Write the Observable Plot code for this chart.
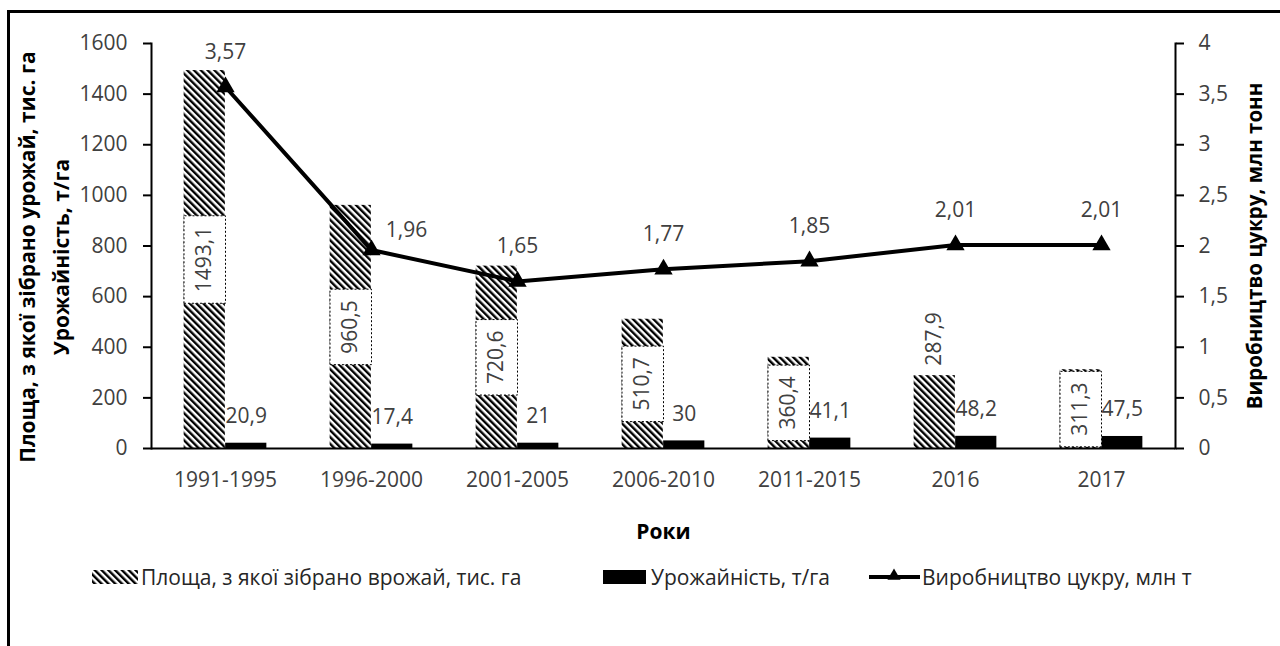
<!DOCTYPE html>
<html>
<head>
<meta charset="utf-8">
<script src="https://cdn.jsdelivr.net/npm/d3@7"></script>
<script src="https://cdn.jsdelivr.net/npm/@observablehq/plot@0.6"></script>
<style>
  html, body { margin: 0; padding: 0; background: #fff; overflow: hidden; }
  #page { position: relative; width: 1280px; height: 646px; font-family: 'Open Sans', sans-serif; }
  #chart { position: absolute; left: 0; top: 0; }
  #border { position: absolute; left: 7px; top: 10px; width: 1300px; height: 700px;
            border-left: 3px solid #000; border-top: 3px solid #000; pointer-events: none; }
  .leg { position: absolute; top: 563px; height: 28px; display: flex; align-items: center;
         font-size: 21px; color: #262626; white-space: nowrap; }
  .leg svg { display: block; }
</style>
</head>
<body>
<div id="page">
  <div id="chart"></div>
  <div id="legend"></div>
  <div id="border"></div>
</div>
<script>
// ---- data ----
const categories = ["1991-1995", "1996-2000", "2001-2005", "2006-2010", "2011-2015", "2016", "2017"];
const areaValues = [1493.1, 960.5, 720.6, 510.7, 360.4, 287.9, 311.3];   // тис. га
const yieldValues = [20.9, 17.4, 21, 30, 41.1, 48.2, 47.5];              // т/га
const sugarValues = [3.57, 1.96, 1.65, 1.77, 1.85, 2.01, 2.01];          // млн т
const leftTicks = [0, 200, 400, 600, 800, 1000, 1200, 1400, 1600];
const rightTicks = [0, 0.5, 1, 1.5, 2, 2.5, 3, 3.5, 4];
const leftTitle1 = "Площа, з якої зібрано урожай, тис. га";
const leftTitle2 = "Урожайність, т/га";
const rightTitle = "Виробництво цукру, млн тонн";
const xTitle = "Роки";
const legendLabels = ["Площа, з якої зібрано врожай, тис. га", "Урожайність, т/га", "Виробництво цукру, млн т"];
const outsideLabelCats = ["2016"];

// ---- layout ----
const W = 1280, H = 560;
const mL = 151, mR = 105, mT = 43, mB = 112;
const bw = (W - mL - mR) / categories.length;
const barW = 41.5;
const k = leftTicks[leftTicks.length - 1] / rightTicks[rightTicks.length - 1]; // secondary axis factor
const fmt = v => String(v).replace(".", ",");
const textColor = "#404040";

const rows = categories.map((c, i) => ({cat: c, area: areaValues[i], yld: yieldValues[i], sugar: sugarValues[i], i}));
const inside = rows.filter(d => !outsideLabelCats.includes(d.cat));
const outside = rows.filter(d => outsideLabelCats.includes(d.cat));

const chart = Plot.plot({
  width: W, height: H,
  marginLeft: mL, marginRight: mR, marginTop: mT, marginBottom: mB,
  style: {fontFamily: "'Open Sans', sans-serif", background: "transparent", color: textColor, overflow: "visible"},
  x: {domain: categories, type: "band", padding: 0},
  y: {domain: [0, 1600]},
  marks: [
    Plot.barY(rows, {x: "cat", y: "area", fill: "url(#hatch)", insetLeft: bw / 2 - barW, insetRight: bw / 2}),
    Plot.barY(rows, {x: "cat", y: "yld", fill: "black", insetLeft: bw / 2, insetRight: bw / 2 - barW}),
    Plot.frame({anchor: "left", stroke: "black", strokeWidth: 2}),
    Plot.frame({anchor: "right", stroke: "black", strokeWidth: 2}),
    Plot.ruleY([0], {stroke: "black", strokeWidth: 2}),
    Plot.axisY(leftTicks, {anchor: "left", tickSize: 8, tickPadding: 16, fontSize: 21, stroke: "black", strokeWidth: 2,
      fill: textColor, label: null, tickFormat: d => String(d)}),
    Plot.axisY(rightTicks.map(v => v * k), {anchor: "right", tickSize: 8, tickPadding: 15, fontSize: 21, stroke: "black",
      strokeWidth: 2, fill: textColor, label: null, tickFormat: d => fmt(d / k)}),
    Plot.axisX({tickSize: 0, tickPadding: 24, fontSize: 21, fill: textColor, label: null}),
    // area labels
    Plot.text(inside, {x: "cat", y: d => d.area / 2, text: d => fmt(d.area), rotate: -90, dx: -barW / 2,
      fontSize: 21, fill: textColor}),
    Plot.text(outside, {x: "cat", y: "area", text: d => fmt(d.area), rotate: -90, textAnchor: "start",
      dx: -barW / 2, dy: -10, fontSize: 21, fill: textColor}),
    // yield labels
    Plot.text(rows, {x: "cat", y: "yld", text: d => fmt(d.yld), dx: barW / 2, dy: -27, fontSize: 21, fill: textColor}),
    // sugar line
    Plot.line(rows, {x: "cat", y: d => d.sugar * k, stroke: "black", strokeWidth: 4}),
    Plot.dot(rows, {x: "cat", y: d => d.sugar * k, symbol: "triangle", r: 6.8, fill: "black", stroke: "none"}),
    Plot.text(rows.filter(d => d.i !== 1), {x: "cat", y: d => d.sugar * k, text: d => fmt(d.sugar), dy: -35, fontSize: 21, fill: textColor}),
    Plot.text(rows.filter(d => d.i === 1), {x: "cat", y: d => d.sugar * k, text: d => fmt(d.sugar), dx: 35, dy: -20, fontSize: 21, fill: textColor}),
    // titles
    Plot.text([leftTitle1], {text: d => d, frameAnchor: "left", textAnchor: "middle", lineAnchor: "middle", rotate: -90, dx: -123, dy: 11, fontSize: 21, fontWeight: "bold", fill: "black"}),
    Plot.text([leftTitle2], {text: d => d, frameAnchor: "left", textAnchor: "middle", lineAnchor: "middle", rotate: -90, dx: -89, dy: 11, fontSize: 21, fontWeight: "bold", fill: "black"}),
    Plot.text([rightTitle], {text: d => d, frameAnchor: "right", textAnchor: "middle", lineAnchor: "middle", rotate: -90, dx: 80, dy: 0, fontSize: 20.5, fontWeight: "bold", fill: "black"}),
    Plot.text([xTitle], {text: d => d, frameAnchor: "bottom", textAnchor: "middle", lineAnchor: "middle", dy: 84, fontSize: 21, fontWeight: "bold", fill: "black"})
  ]
});
document.getElementById("chart").appendChild(chart);

// hatch pattern
function addHatch(svgSel, id) {
  const p = svgSel.insert("defs", ":first-child").append("pattern")
    .attr("id", id).attr("patternUnits", "userSpaceOnUse")
    .attr("width", 4.8).attr("height", 4.8).attr("patternTransform", "rotate(-45)");
  p.append("rect").attr("width", 4.8).attr("height", 4.8).attr("fill", "white");
  p.append("rect").attr("x", 0).attr("y", 0).attr("width", 2.4).attr("height", 4.8).attr("fill", "black");
}
addHatch(d3.select(chart), "hatch");

// dotted white label boxes behind the centred area labels
const insideTexts = new Set(inside.map(d => fmt(d.area)));
d3.select(chart).selectAll("text").filter(function () {
  return insideTexts.has(this.textContent) && /rotate/.test(this.getAttribute("transform") || "");
}).each(function () {
  const b = this.getBBox();
  const pad = 11;
  this.parentNode.insertBefore(
    d3.create("svg:rect")
      .attr("transform", this.getAttribute("transform"))
      .attr("x", b.x - pad).attr("width", b.width + 2 * pad)
      .attr("y", -barW / 2).attr("height", barW)
      .attr("fill", "white").attr("stroke", "black").attr("stroke-width", 1).attr("stroke-dasharray", "2,2")
      .node(), this);
});

// legend
const legend = d3.select("#legend");
const l1 = legend.append("div").attr("class", "leg").style("left", "92px");
const s1 = l1.append("svg").attr("width", 47).attr("height", 16);
addHatch(s1, "hatchLeg");
s1.append("rect").attr("x", 0).attr("y", 1).attr("width", 46).attr("height", 14).attr("fill", "url(#hatchLeg)");
l1.append("span").style("margin-left", "2px").text(legendLabels[0]);

const l2 = legend.append("div").attr("class", "leg").style("left", "603px");
const s2 = l2.append("svg").attr("width", 44).attr("height", 16);
s2.append("rect").attr("x", 0).attr("y", 1).attr("width", 43).attr("height", 14).attr("fill", "black");
l2.append("span").style("margin-left", "4px").text(legendLabels[1]);

const l3 = legend.append("div").attr("class", "leg").style("left", "868px");
const s3 = l3.append("svg").attr("width", 53).attr("height", 20);
s3.append("line").attr("x1", 1).attr("x2", 52).attr("y1", 10).attr("y2", 10).attr("stroke", "black").attr("stroke-width", 4);
s3.append("path").attr("transform", "translate(26,9)").attr("d", d3.symbol(d3.symbolTriangle, 75)()).attr("fill", "black");
l3.append("span").style("margin-left", "1px").text(legendLabels[2]);
</script>
</body>
</html>
